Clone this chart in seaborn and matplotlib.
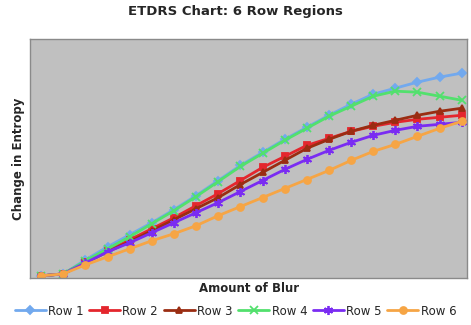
import numpy as np
import pandas as pd
import matplotlib
matplotlib.use("Agg")
import matplotlib.pyplot as plt
import seaborn as sns

# blur steps (no tick labels on the original)
blur = list(range(20))

row1 = [0.00, 0.02, 0.16, 0.29, 0.41, 0.53, 0.66, 0.80, 0.95, 1.10, 1.23, 1.36, 1.48, 1.60, 1.71, 1.81, 1.87, 1.93, 1.98, 2.02]
row2 = [0.00, 0.02, 0.14, 0.25, 0.36, 0.47, 0.58, 0.70, 0.82, 0.95, 1.08, 1.19, 1.30, 1.37, 1.44, 1.49, 1.53, 1.56, 1.58, 1.60]
row3 = [0.00, 0.02, 0.13, 0.24, 0.34, 0.45, 0.56, 0.67, 0.78, 0.91, 1.03, 1.15, 1.27, 1.36, 1.44, 1.50, 1.55, 1.60, 1.64, 1.67]
row4 = [0.00, 0.02, 0.15, 0.27, 0.39, 0.52, 0.65, 0.79, 0.94, 1.09, 1.22, 1.35, 1.47, 1.59, 1.69, 1.79, 1.84, 1.83, 1.79, 1.75]
row5 = [0.00, 0.02, 0.13, 0.24, 0.33, 0.43, 0.53, 0.63, 0.73, 0.84, 0.95, 1.06, 1.16, 1.25, 1.33, 1.40, 1.45, 1.49, 1.51, 1.53]
row6 = [0.00, 0.02, 0.11, 0.19, 0.27, 0.35, 0.42, 0.50, 0.60, 0.69, 0.78, 0.87, 0.96, 1.05, 1.15, 1.24, 1.31, 1.39, 1.47, 1.54]

names = ["Row 1", "Row 2", "Row 3", "Row 4", "Row 5", "Row 6"]
series = [row1, row2, row3, row4, row5, row6]
colors = ["#72a9ee", "#e4262d", "#9a2d12", "#52e06d", "#7a2cf2", "#f6a545"]
marks = ["D", "s", "^", "x", (6, 2, 0), "o"]
sizes = [4, 5, 4.5, 5.5, 6.5, 5]

df = pd.DataFrame({
    "blur": blur * len(names),
    "entropy": sum(series, []),
    "row": np.repeat(names, len(blur)),
})

sns.set_style("white")
plt.rcParams["font.family"] = ["DejaVu Sans"]

fig = plt.figure(figsize=(4.71, 3.25), dpi=100)
ax = fig.add_axes([0.064, 0.145, 0.928, 0.735])
ax.set_facecolor("#c0c0c0")

for name, col, mk, ms in zip(names, colors, marks, sizes):
    sub = df[df["row"] == name]
    sns.lineplot(data=sub, x="blur", y="entropy", ax=ax, color=col, lw=2.0,
                 marker=mk, markersize=ms, markeredgecolor=col,
                 markeredgewidth=1.3, label=name)

ax.set_xlim(-0.5, 19.25)
ax.set_ylim(-0.02, 2.36)
ax.set_xticks([])
ax.set_yticks([])
for s in ax.spines.values():
    s.set_color("#8a8a8a")
    s.set_linewidth(1)

ax.set_xlabel("Amount of Blur", fontsize=8.5, fontweight="bold", labelpad=3)
ax.set_ylabel("Change in Entropy", fontsize=8.5, fontweight="bold", labelpad=4)
fig.suptitle("ETDRS Chart: 6 Row Regions", fontsize=9.5, fontweight="bold", y=0.985)

ax.legend_.remove()
h, l = ax.get_legend_handles_labels()
fig.legend(h, l, loc="lower center", bbox_to_anchor=(0.5, -0.01), ncol=6,
           frameon=False, fontsize=8.5, handlelength=2.6, handletextpad=0.2,
           columnspacing=0.5)

fig.savefig("out.png", dpi=100)
